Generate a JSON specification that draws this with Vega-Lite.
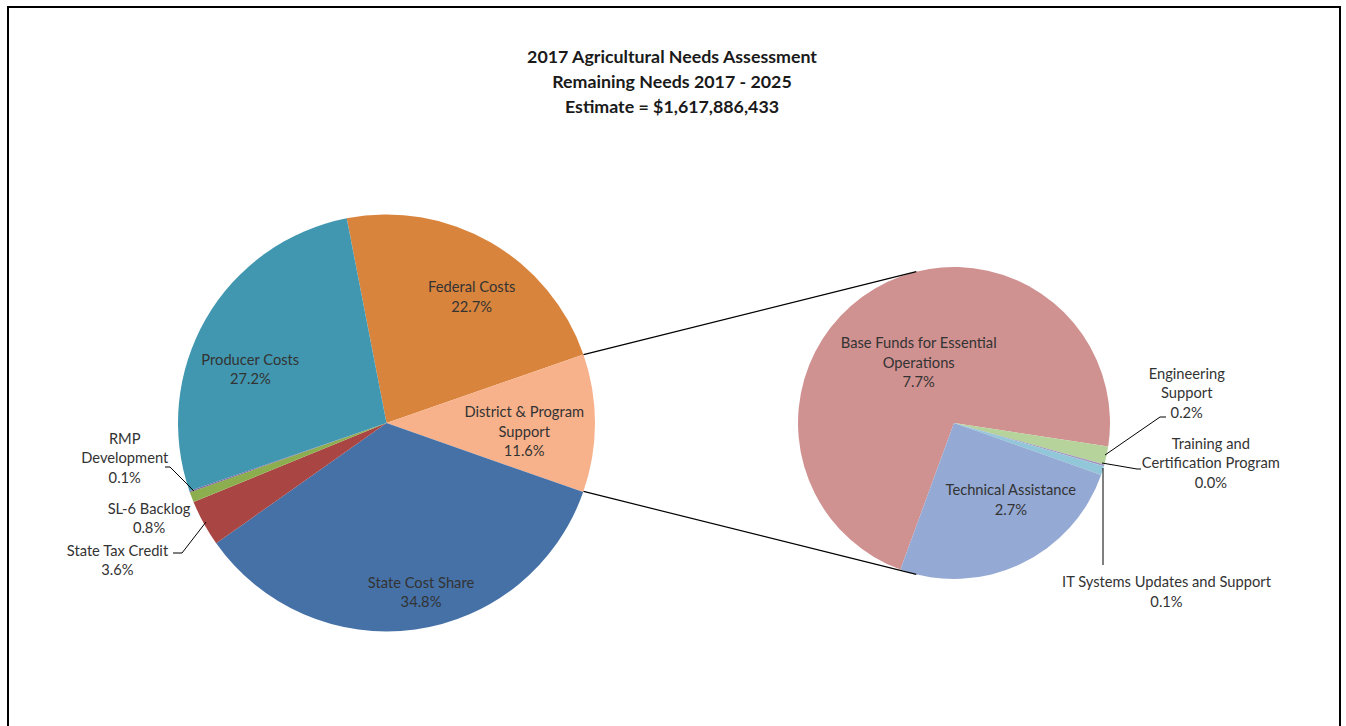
{
  "$schema": "https://vega.github.io/schema/vega-lite/v6.json",
  "width": 1332,
  "height": 721,
  "autosize": {"type": "none"},
  "padding": {"left": 8, "top": 7, "right": 6, "bottom": -2},
  "background": "#ffffff",
  "config": {
    "view": {"stroke": "#000000", "strokeWidth": 2},
    "text": {"font": "Lato", "fontSize": 14.7, "color": "#333333", "lineHeight": 19.5, "lineBreak": "\n", "dy": 1.5}
  },
  "title": {
    "text": ["2017 Agricultural Needs Assessment", "Remaining Needs 2017 - 2025", "Estimate = $1,617,886,433"],
    "font": "Lato",
    "fontSize": 17.8,
    "fontWeight": "bold",
    "color": "#1a1a1a",
    "lineHeight": 24.8,
    "anchor": "middle",
    "dx": -2,
    "offset": -109.5
  },
  "datasets": {
    "main": [
      {"pie": "Main", "category": "Federal Costs", "share": 22.7, "rank": 1, "label": "Federal Costs\n22.7%"},
      {"pie": "Main", "category": "District & Program Support", "share": 10.7, "rank": 2, "label": "District & Program\nSupport\n11.6%"},
      {"pie": "Main", "category": "State Cost Share", "share": 34.8, "rank": 3, "label": "State Cost Share\n34.8%"},
      {"pie": "Main", "category": "State Tax Credit", "share": 3.6, "rank": 4, "label": "State Tax Credit\n3.6%"},
      {"pie": "Main", "category": "SL-6 Backlog", "share": 0.8, "rank": 5, "label": "SL-6 Backlog\n0.8%"},
      {"pie": "Main", "category": "RMP Development", "share": 0.1, "rank": 6, "label": "RMP\nDevelopment\n0.1%"},
      {"pie": "Main", "category": "Producer Costs", "share": 27.2, "rank": 7, "label": "Producer Costs\n27.2%"}
    ],
    "breakdown": [
      {"pie": "Breakdown", "category": "Base Funds for Essential Operations", "share": 7.7, "rank": 1, "label": "Base Funds for Essential\nOperations\n7.7%"},
      {"pie": "Breakdown", "category": "Engineering Support", "share": 0.2, "rank": 2, "label": "Engineering\nSupport\n0.2%"},
      {"pie": "Breakdown", "category": "Training and Certification Program", "share": 0.02, "rank": 3, "label": "Training and\nCertification Program\n0.0%"},
      {"pie": "Breakdown", "category": "IT Systems Updates and Support", "share": 0.1, "rank": 4, "label": "IT Systems Updates and Support\n0.1%"},
      {"pie": "Breakdown", "category": "Technical Assistance", "share": 2.7, "rank": 5, "label": "Technical Assistance\n2.7%"}
    ]
  },
  "encoding": {
    "x": {"field": "pie", "type": "nominal", "axis": null, "scale": {"type": "point", "domain": ["Main", "Breakdown"], "padding": 0.67357, "align": 0.4951}},
    "y": {"datum": "center", "type": "nominal", "axis": null, "scale": {"type": "point", "domain": ["center"], "align": 0.57698}}
  },
  "layer": [
    {
      "data": {"name": "main"},
      "encoding": {
        "theta": {"field": "share", "type": "quantitative", "stack": true, "scale": {"range": [-0.191986, 6.091199]}},
        "order": {"field": "rank", "type": "quantitative"}
      },
      "layer": [
        {
          "mark": {"type": "arc", "outerRadius": 208.5},
          "encoding": {
            "color": {"field": "category", "type": "nominal", "legend": null,
              "scale": {"domain": ["Federal Costs", "District & Program Support", "State Cost Share", "State Tax Credit", "SL-6 Backlog", "RMP Development", "Producer Costs"],
                        "range": ["#D9843D", "#F8B28B", "#4571A7", "#A94543", "#8CAE4F", "#7E649E", "#4197AF"]}}
          }
        },
        {"mark": {"type": "text", "radius": 160.7, "thetaOffset": 0.0368}, "encoding": {"text": {"condition": {"test": "datum.category === 'Federal Costs'", "field": "label"}, "value": ""}}},
        {"mark": {"type": "text", "radius": 138.2, "thetaOffset": -0.0833}, "encoding": {"text": {"condition": {"test": "datum.category === 'District & Program Support'", "field": "label"}, "value": ""}}},
        {"mark": {"type": "text", "radius": 163.0, "thetaOffset": -0.0747}, "encoding": {"text": {"condition": {"test": "datum.category === 'State Cost Share'", "field": "label"}, "value": ""}}},
        {"mark": {"type": "text", "radius": 150.4, "thetaOffset": -0.086}, "encoding": {"text": {"condition": {"test": "datum.category === 'Producer Costs'", "field": "label"}, "value": ""}}},
        {"mark": {"type": "text", "radius": 262.2, "thetaOffset": 0.2768}, "encoding": {"text": {"condition": {"test": "datum.category === 'RMP Development'", "field": "label"}, "value": ""}}},
        {"mark": {"type": "text", "radius": 252.4, "thetaOffset": 0.0178}, "encoding": {"text": {"condition": {"test": "datum.category === 'SL-6 Backlog'", "field": "label"}, "value": ""}}},
        {"mark": {"type": "text", "radius": 297.5, "thetaOffset": 0.0607}, "encoding": {"text": {"condition": {"test": "datum.category === 'State Tax Credit'", "field": "label"}, "value": ""}}}
      ]
    },
    {
      "data": {"name": "breakdown"},
      "encoding": {
        "theta": {"field": "share", "type": "quantitative", "stack": true, "scale": {"range": [3.492404, 9.77559]}},
        "order": {"field": "rank", "type": "quantitative"}
      },
      "layer": [
        {
          "mark": {"type": "arc", "outerRadius": 156},
          "encoding": {
            "color": {"field": "category", "type": "nominal", "legend": null,
              "scale": {"domain": ["Base Funds for Essential Operations", "Engineering Support", "Training and Certification Program", "IT Systems Updates and Support", "Technical Assistance"],
                        "range": ["#D09191", "#B5D39A", "#A495BF", "#92C6D9", "#94A9D3"]}}
          }
        },
        {"mark": {"type": "text", "radius": 87.7, "thetaOffset": 0.1201}, "encoding": {"text": {"condition": {"test": "datum.category === 'Base Funds for Essential Operations'", "field": "label"}, "value": ""}}},
        {"mark": {"type": "text", "radius": 87.8, "thetaOffset": -0.2628}, "encoding": {"text": {"condition": {"test": "datum.category === 'Technical Assistance'", "field": "label"}, "value": ""}}},
        {"mark": {"type": "text", "radius": 238.0, "thetaOffset": -0.4206}, "encoding": {"text": {"condition": {"test": "datum.category === 'Engineering Support'", "field": "label"}, "value": ""}}},
        {"mark": {"type": "text", "radius": 257.6, "thetaOffset": -0.1958}, "encoding": {"text": {"condition": {"test": "datum.category === 'Training and Certification Program'", "field": "label"}, "value": ""}}},
        {"mark": {"type": "text", "radius": 265.2, "thetaOffset": 0.3316}, "encoding": {"text": {"condition": {"test": "datum.category === 'IT Systems Updates and Support'", "field": "label"}, "value": ""}}}
      ]
    },
    {
      "data": {"name": "main"},
      "transform": [{"filter": "datum.category === 'District & Program Support'"}],
      "layer": [
        {"mark": {"type": "rule", "color": "#000000", "strokeWidth": 1.2, "xOffset": 197, "yOffset": -68.4, "x2Offset": -37.7, "y2Offset": -151.4}, "encoding": {"x2": {"datum": "Breakdown"}, "y2": {"datum": "center"}}},
        {"mark": {"type": "rule", "color": "#000000", "strokeWidth": 1.2, "xOffset": 197, "yOffset": 68.4, "x2Offset": -37.7, "y2Offset": 151.4}, "encoding": {"x2": {"datum": "Breakdown"}, "y2": {"datum": "center"}}}
      ]
    },
    {
      "data": {"name": "main"},
      "transform": [{"filter": "datum.category === 'RMP Development'"}],
      "layer": [
        {"mark": {"type": "rule", "color": "#000000", "strokeWidth": 1, "xOffset": -192.5, "yOffset": 68, "x2Offset": -216.5, "y2Offset": 44}, "encoding": {"x2": {"field": "pie"}, "y2": {"datum": "center"}}},
        {"mark": {"type": "rule", "color": "#000000", "strokeWidth": 1, "xOffset": -216.5, "yOffset": 44, "x2Offset": -221.5, "y2Offset": 44}, "encoding": {"x2": {"field": "pie"}, "y2": {"datum": "center"}}}
      ]
    },
    {
      "data": {"name": "main"},
      "transform": [{"filter": "datum.category === 'State Tax Credit'"}],
      "layer": [
        {"mark": {"type": "rule", "color": "#000000", "strokeWidth": 1, "xOffset": -180.5, "yOffset": 99, "x2Offset": -204.5, "y2Offset": 130}, "encoding": {"x2": {"field": "pie"}, "y2": {"datum": "center"}}},
        {"mark": {"type": "rule", "color": "#000000", "strokeWidth": 1, "xOffset": -204.5, "yOffset": 130, "x2Offset": -213.5, "y2Offset": 130}, "encoding": {"x2": {"field": "pie"}, "y2": {"datum": "center"}}}
      ]
    },
    {
      "data": {"name": "breakdown"},
      "transform": [{"filter": "datum.category === 'Engineering Support'"}],
      "layer": [
        {"mark": {"type": "rule", "color": "#000000", "strokeWidth": 1, "xOffset": 151, "yOffset": 32, "x2Offset": 206, "y2Offset": -6}, "encoding": {"x2": {"field": "pie"}, "y2": {"datum": "center"}}},
        {"mark": {"type": "rule", "color": "#000000", "strokeWidth": 1, "xOffset": 206, "yOffset": -6, "x2Offset": 212, "y2Offset": -6}, "encoding": {"x2": {"field": "pie"}, "y2": {"datum": "center"}}}
      ]
    },
    {
      "data": {"name": "breakdown"},
      "transform": [{"filter": "datum.category === 'Training and Certification Program'"}],
      "layer": [
        {"mark": {"type": "rule", "color": "#000000", "strokeWidth": 1, "xOffset": 148, "yOffset": 40, "x2Offset": 183, "y2Offset": 46}, "encoding": {"x2": {"field": "pie"}, "y2": {"datum": "center"}}},
        {"mark": {"type": "rule", "color": "#000000", "strokeWidth": 1, "xOffset": 183, "yOffset": 46, "x2Offset": 187, "y2Offset": 46}, "encoding": {"x2": {"field": "pie"}, "y2": {"datum": "center"}}}
      ]
    },
    {
      "data": {"name": "breakdown"},
      "transform": [{"filter": "datum.category === 'IT Systems Updates and Support'"}],
      "mark": {"type": "rule", "color": "#000000", "strokeWidth": 1, "xOffset": 149, "yOffset": 45, "x2Offset": 149, "y2Offset": 142},
      "encoding": {"x2": {"field": "pie"}, "y2": {"datum": "center"}}
    }
  ],
  "resolve": {"scale": {"theta": "independent", "color": "independent"}}
}
